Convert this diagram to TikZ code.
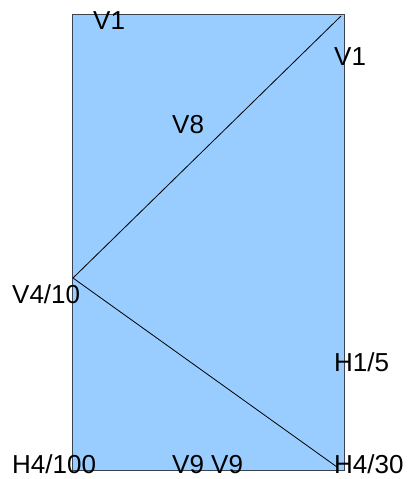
\documentclass[tikz,border=0pt]{standalone}
\usepackage{fontspec}
\setmainfont{Liberation Sans}
\definecolor{boxfill}{HTML}{99CCFF}
\definecolor{boxline}{HTML}{3A4450}
\tikzset{
  lbl/.style={anchor=base west, inner sep=0pt, font=\fontsize{26}{30}\selectfont},
  diag/.style={draw=black, line width=0.8pt},
}
\begin{document}
\begin{tikzpicture}[x=1pt,y=-1pt]
\useasboundingbox (0,0) rectangle (407,479);
\node[draw=boxline, fill=boxfill, line width=0.9pt, minimum width=272pt, minimum height=456pt, inner sep=0pt, anchor=north west] (box) at (72,14) {};
\coordinate (tr) at (341,16);
\coordinate (lm) at (73,278);
\coordinate (br) at (337,467);
\draw[diag] (tr) -- (lm) -- (br);
\node[lbl] (v1a) at (93,29) {V1};
\node[lbl] (v1b) at (334,65) {V1};
\node[lbl] (v8) at (172,133) {V8};
\node[lbl] (v410) at (12,303) {V4/10};
\node[lbl] (h15) at (334,371) {H1/5};
\node[lbl] (h4100) at (12,473) {H4/100};
\node[lbl] (v9) at (172,473) {V9 V9};
\node[lbl] (h430) at (334,473) {H4/30};
\end{tikzpicture}
\end{document}
